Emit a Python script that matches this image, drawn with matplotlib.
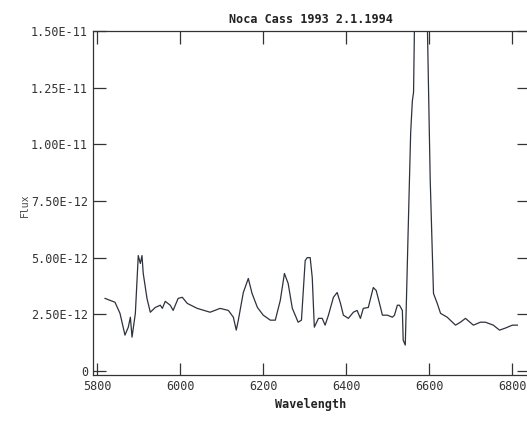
import matplotlib
matplotlib.use("Agg")
import matplotlib.pyplot as plt
from matplotlib.ticker import FuncFormatter

# spectrum (wavelength in Angstrom, flux in 1e-12 units)
wavelength = [5819, 5843, 5855, 5867, 5875, 5880, 5884, 5892, 5899, 5904,
              5908, 5911, 5920, 5928, 5940, 5952, 5957, 5964, 5976, 5983,
              5995, 6005, 6017, 6041, 6072, 6096, 6116, 6128, 6135, 6140,
              6152, 6164, 6173, 6186, 6200, 6217, 6229, 6241, 6251, 6260,
              6270, 6277, 6284, 6292, 6301, 6306, 6313, 6318, 6323, 6333,
              6342, 6349, 6357, 6369, 6378, 6386, 6393, 6405, 6417, 6426,
              6434, 6441, 6453, 6465, 6472, 6480, 6487, 6499, 6511, 6516,
              6523, 6528, 6535, 6537, 6542, 6545, 6549, 6555, 6559, 6562,
              6575, 6585, 6595, 6602, 6607, 6610, 6619, 6627, 6643, 6663,
              6675, 6687, 6706, 6723, 6735, 6754, 6769, 6783, 6800, 6812]
flux = [3.2, 3.03, 2.54, 1.58, 1.93, 2.37, 1.49, 2.54, 5.09, 4.74,
        5.09, 4.3, 3.2, 2.59, 2.8, 2.9, 2.76, 3.07, 2.9, 2.67,
        3.2, 3.25, 2.98, 2.76, 2.59, 2.76, 2.67, 2.37, 1.8, 2.24,
        3.46, 4.08, 3.42, 2.8, 2.46, 2.24, 2.24, 3.11, 4.3, 3.86,
        2.76, 2.46, 2.15, 2.24, 4.87, 5.0, 5.0, 4.12, 1.93, 2.32,
        2.32, 2.02, 2.46, 3.25, 3.46, 2.98, 2.46, 2.32, 2.59, 2.67,
        2.32, 2.76, 2.8, 3.68, 3.55, 2.98, 2.46, 2.46, 2.37, 2.46,
        2.9, 2.9, 2.67, 1.36, 1.14, 3.25, 6.2, 10.5, 11.9, 12.3,
        30.0, 30.0, 15.5, 8.5, 5.3, 3.42, 2.98, 2.54, 2.37, 2.02,
        2.15, 2.32, 2.02, 2.15, 2.15, 2.02, 1.8, 1.89, 2.02, 2.02]

x_ticks = [5800, 6000, 6200, 6400, 6600, 6800]
y_ticks = [0, 2.5e-12, 5.0e-12, 7.5e-12, 1.0e-11, 1.25e-11, 1.5e-11]

mono = "DejaVu Sans Mono"


# label like the old plotting package: 2.50E-12, plain 0
def sci_label(v, pos):
    if v == 0:
        return "0"
    s = "%.2E" % v
    mant, exp = s.split("E")
    return mant + "E" + str(int(exp)) if int(exp) > 0 else mant + "E-" + str(abs(int(exp)))


fig = plt.figure(figsize=(5.27, 4.21), dpi=100)
ax = fig.add_axes([93 / 527, 1 - 375 / 421, 436 / 527, 344 / 421])

ax.plot(wavelength, [f * 1e-12 for f in flux], color="#2e323c", lw=0.9)

ax.set_xlim(5790, 6840)
ax.set_ylim(-0.18e-12, 1.5e-11)
ax.set_xticks(x_ticks)
ax.set_yticks(y_ticks)
ax.yaxis.set_major_formatter(FuncFormatter(sci_label))
ax.tick_params(direction="in", length=9, width=0.9, top=True, right=True,
               color="#333333", labelcolor="#333333")
for lab in ax.get_xticklabels() + ax.get_yticklabels():
    lab.set_family(mono)
    lab.set_fontsize(8.5)
for sp in ax.spines.values():
    sp.set_color("#333333")
    sp.set_linewidth(0.9)

ax.set_title("Noca Cass 1993 2.1.1994", family=mono, fontsize=8.5,
             fontweight="bold", color="#222222", pad=6)
ax.set_xlabel("Wavelength", family=mono, fontsize=8.5, fontweight="bold",
              color="#222222", labelpad=4)
fig.text(25 / 527, 1 - 205 / 421, "Flux", rotation=90, family=mono,
         fontsize=7, color="#444444", ha="center", va="center")

fig.savefig("out.png", dpi=100)
